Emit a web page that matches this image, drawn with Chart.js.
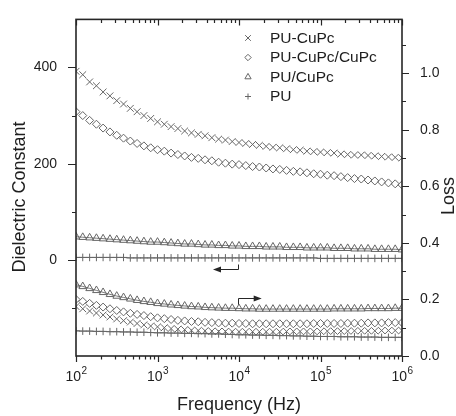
<!DOCTYPE html>
<html>
<head>
<meta charset="utf-8">
<script src="https://cdn.jsdelivr.net/npm/chart.js@4.4.0/dist/chart.umd.min.js"></script>
<style>
  html, body { margin: 0; padding: 0; background: #ffffff; }
  #c { display: block; }
</style>
</head>
<body>
<canvas id="c" width="456" height="416"></canvas>
<script>
// ---------------- DATA ----------------
const frequencies = [
  100, 121, 147, 178, 215, 261, 316, 383, 464, 562, 681, 825,
  1000, 1212, 1468, 1778, 2154, 2610, 3162, 3831, 4642, 5623, 6813, 8254,
  10000, 12115, 14678, 17783, 21544, 26102, 31623, 38312, 46416, 56234, 68129, 82540,
  100000, 121153, 146780, 177828, 215443, 261016, 316228, 383119, 464159, 562341, 681292, 825404,
  1000000
];
const seriesNames = ['PU-CuPc', 'PU-CuPc/CuPc', 'PU/CuPc', 'PU'];

// Dielectric constant (left axis)
const dielPUCuPc = [
  392, 385, 370, 362, 349, 341, 331, 324, 315, 308, 300, 294,
  287, 282, 277, 273, 268, 264, 261, 258, 254, 251, 249, 246,
  244, 242, 240, 238, 236, 234, 233, 231, 229, 228, 226, 225,
  224, 223, 222, 220, 219, 218, 218, 217, 216, 215, 214, 213,
  212
];
const dielPUCuPcCuPc = [
  308, 300, 290, 282, 274, 266, 259, 253, 247, 242, 237, 233,
  229, 226, 222, 219, 216, 213, 211, 208, 206, 203, 201, 199,
  198, 196, 194, 193, 191, 189, 188, 186, 184, 183, 181, 179,
  178, 176, 175, 173, 171, 169, 168, 166, 164, 162, 160, 158,
  156
];
const dielPUslashCuPc = [
  48, 47, 46, 45, 44, 43, 42, 41, 40, 39, 38, 37,
  37, 36, 35, 34, 33, 33, 32, 31, 31, 30, 30, 29,
  29, 28, 28, 28, 27, 27, 27, 26, 26, 26, 25, 25,
  25, 25, 24, 24, 24, 23, 23, 23, 22, 22, 22, 22,
  21
];
const dielPU = [
  5, 5, 5, 5, 5, 5, 5, 5, 4, 4, 4, 4,
  4, 4, 4, 4, 4, 4, 4, 4, 4, 4, 4, 4,
  4, 4, 4, 4, 4, 4, 4, 4, 4, 4, 4, 4,
  3, 3, 3, 3, 3, 3, 3, 3, 3, 3, 3, 3,
  3
];

// Loss (right axis)
const lossPUCuPc = [
  0.175, 0.167, 0.159, 0.152, 0.145, 0.138, 0.131, 0.125, 0.120, 0.115, 0.110, 0.106,
  0.103, 0.100, 0.097, 0.095, 0.093, 0.091, 0.090, 0.089, 0.088, 0.087, 0.087, 0.086,
  0.086, 0.086, 0.086, 0.086, 0.086, 0.086, 0.086, 0.087, 0.087, 0.087, 0.087, 0.087,
  0.087, 0.088, 0.088, 0.088, 0.088, 0.089, 0.089, 0.089, 0.089, 0.090, 0.090, 0.090,
  0.090
];
const lossPUCuPcCuPc = [
  0.200, 0.193, 0.186, 0.179, 0.173, 0.167, 0.161, 0.156, 0.151, 0.147, 0.143, 0.139,
  0.135, 0.132, 0.129, 0.126, 0.124, 0.122, 0.121, 0.119, 0.118, 0.117, 0.116, 0.116,
  0.115, 0.115, 0.114, 0.114, 0.114, 0.114, 0.114, 0.114, 0.114, 0.114, 0.114, 0.115,
  0.115, 0.115, 0.115, 0.115, 0.116, 0.116, 0.116, 0.117, 0.117, 0.117, 0.118, 0.118,
  0.118
];
const lossPUslashCuPc = [
  0.252, 0.246, 0.239, 0.232, 0.225, 0.218, 0.212, 0.207, 0.202, 0.197, 0.193, 0.190,
  0.186, 0.184, 0.181, 0.179, 0.177, 0.175, 0.174, 0.172, 0.171, 0.170, 0.169, 0.169,
  0.168, 0.167, 0.167, 0.166, 0.166, 0.166, 0.166, 0.166, 0.166, 0.166, 0.166, 0.166,
  0.166, 0.166, 0.167, 0.167, 0.167, 0.167, 0.167, 0.168, 0.168, 0.168, 0.168, 0.169,
  0.169
];
const lossPU = [
  0.089, 0.088, 0.088, 0.087, 0.087, 0.086, 0.086, 0.085, 0.085, 0.084, 0.084, 0.083,
  0.082, 0.082, 0.081, 0.081, 0.080, 0.080, 0.079, 0.079, 0.078, 0.078, 0.077, 0.076,
  0.075, 0.075, 0.074, 0.074, 0.073, 0.073, 0.072, 0.072, 0.071, 0.071, 0.070, 0.070,
  0.069, 0.069, 0.069, 0.068, 0.068, 0.068, 0.067, 0.067, 0.067, 0.066, 0.066, 0.066,
  0.066
];

// Tick values
const xMajorTicks = [100, 1000, 10000, 100000, 1000000];
const xExponents = ['2', '3', '4', '5', '6'];
const leftMajorTicks = [0, 200, 400];
const leftMinorTicks = [-100, 100, 300];
const rightMajorTicks = [0, 0.2, 0.4, 0.6, 0.8, 1.0];
const rightMinorTicks = [0.1, 0.3, 0.5, 0.7, 0.9, 1.1];

// ---------------- STYLE ----------------
const FONT = '"Liberation Sans", Arial, Helvetica, sans-serif';
const MARK = '#666666';
const AXIS = '#262626';
const TEXT = '#1e1e1e';

const markerStyles = [
  { pointStyle: 'crossRot', radius: 4.8, line: false },
  { pointStyle: 'rectRot', radius: 4.0, line: false },
  { pointStyle: 'triangle', radius: 4.4, line: true },
  { pointStyle: 'cross', radius: 3.8, line: true }
];

function pts(arr) { return frequencies.map((f, i) => ({ x: f, y: arr[i] })); }

function mkDataset(label, arr, axis, idx) {
  const m = markerStyles[idx];
  return {
    label: label,
    data: pts(arr),
    yAxisID: axis,
    showLine: m.line,
    borderColor: MARK,
    borderWidth: 0.9,
    backgroundColor: 'rgba(0,0,0,0)',
    pointStyle: m.pointStyle,
    pointRadius: m.radius,
    pointBorderColor: MARK,
    pointBackgroundColor: 'rgba(0,0,0,0)',
    pointBorderWidth: 1,
    tension: 0,
    fill: false
  };
}

const datasets = [
  mkDataset(seriesNames[0], dielPUCuPc, 'y', 0),
  mkDataset(seriesNames[1], dielPUCuPcCuPc, 'y', 1),
  mkDataset(seriesNames[2], dielPUslashCuPc, 'y', 2),
  mkDataset(seriesNames[3], dielPU, 'y', 3),
  mkDataset(seriesNames[0] + ' loss', lossPUCuPc, 'y2', 0),
  mkDataset(seriesNames[1] + ' loss', lossPUCuPcCuPc, 'y2', 1),
  mkDataset(seriesNames[2] + ' loss', lossPUslashCuPc, 'y2', 2),
  mkDataset(seriesNames[3] + ' loss', lossPU, 'y2', 3)
];

// Arrow annotations (in data units)
const arrowDielectric = { xCorner: 9800, xTip: 4800, yTop: -8, yBottom: -18.5 };
const arrowLoss = { xCorner: 9800, xTip: 19000, yBottom: 0.184, yTop: 0.205 };

// ---------------- PLUGIN ----------------
function drawMarker(ctx, style, radius, x, y) {
  if (Chart.helpers && Chart.helpers.drawPoint) {
    Chart.helpers.drawPoint(ctx, { pointStyle: style, radius: radius, rotation: 0, borderWidth: 1 }, x, y);
  }
}

function arrowHead(ctx, x, y, dir) {
  ctx.beginPath();
  ctx.moveTo(x, y);
  ctx.lineTo(x - dir * 8, y - 3);
  ctx.lineTo(x - dir * 8, y + 3);
  ctx.closePath();
  ctx.fill();
}

const decorPlugin = {
  id: 'decor',
  afterDraw(chart) {
    const { ctx, chartArea: a, scales } = chart;
    const xs = scales.x, ys = scales.y, y2s = scales.y2;
    ctx.save();

    // frame
    ctx.strokeStyle = AXIS;
    ctx.lineWidth = 1.6;
    ctx.strokeRect(a.left, a.top, a.right - a.left, a.bottom - a.top);

    // x ticks (bottom outward, top inward)
    ctx.lineWidth = 1.2;
    ctx.beginPath();
    for (let d = 0; d < xMajorTicks.length; d++) {
      for (let m = 1; m <= 9; m++) {
        const v = xMajorTicks[d] * m;
        if (v > xMajorTicks[xMajorTicks.length - 1]) break;
        const px = Math.round(xs.getPixelForValue(v)) + 0.5;
        const len = (m === 1) ? 6 : 3.5;
        ctx.moveTo(px, a.bottom); ctx.lineTo(px, a.bottom + len);
        ctx.moveTo(px, a.top); ctx.lineTo(px, a.top + len);
      }
    }
    // left ticks outward
    leftMajorTicks.forEach(v => {
      const py = Math.round(ys.getPixelForValue(v)) + 0.5;
      ctx.moveTo(a.left, py); ctx.lineTo(a.left - 8, py);
    });
    leftMinorTicks.forEach(v => {
      const py = Math.round(ys.getPixelForValue(v)) + 0.5;
      ctx.moveTo(a.left, py); ctx.lineTo(a.left - 4, py);
    });
    // right ticks outward
    rightMajorTicks.forEach(v => {
      const py = Math.round(y2s.getPixelForValue(v)) + 0.5;
      ctx.moveTo(a.right, py); ctx.lineTo(a.right + 7, py);
    });
    rightMinorTicks.forEach(v => {
      const py = Math.round(y2s.getPixelForValue(v)) + 0.5;
      ctx.moveTo(a.right, py); ctx.lineTo(a.right + 4, py);
    });
    ctx.stroke();

    // x tick labels with superscript exponent
    ctx.fillStyle = TEXT;
    ctx.textBaseline = 'middle';
    xMajorTicks.forEach((v, i) => {
      const px = xs.getPixelForValue(v);
      ctx.font = '14px ' + FONT;
      const wBase = ctx.measureText('10').width;
      ctx.font = '10px ' + FONT;
      const wExp = ctx.measureText(xExponents[i]).width;
      const start = px - (wBase + wExp) / 2;
      ctx.textAlign = 'left';
      ctx.font = '14px ' + FONT;
      ctx.fillText('10', start, a.bottom + 21);
      ctx.font = '10px ' + FONT;
      ctx.fillText(xExponents[i], start + wBase + 0.5, a.bottom + 15);
    });

    // y axis titles (both read bottom-to-top)
    ctx.font = '18px ' + FONT;
    ctx.textAlign = 'center';
    ctx.textBaseline = 'middle';
    ctx.save();
    ctx.translate(20, 197);
    ctx.rotate(-Math.PI / 2);
    ctx.fillText('Dielectric Constant', 0, 0);
    ctx.restore();
    ctx.save();
    ctx.translate(449, 196);
    ctx.rotate(-Math.PI / 2);
    ctx.fillText('Loss', 0, 0);
    ctx.restore();

    // arrows
    ctx.strokeStyle = AXIS;
    ctx.fillStyle = AXIS;
    ctx.lineWidth = 1;
    let xc = Math.round(xs.getPixelForValue(arrowDielectric.xCorner)) + 0.5;
    let xt = xs.getPixelForValue(arrowDielectric.xTip);
    let yt = Math.round(ys.getPixelForValue(arrowDielectric.yTop)) + 0.5;
    let yb = Math.round(ys.getPixelForValue(arrowDielectric.yBottom)) + 0.5;
    ctx.beginPath();
    ctx.moveTo(xc, yt); ctx.lineTo(xc, yb); ctx.lineTo(xt + 4, yb);
    ctx.stroke();
    arrowHead(ctx, xt, yb, -1);

    xc = Math.round(xs.getPixelForValue(arrowLoss.xCorner)) + 0.5;
    xt = xs.getPixelForValue(arrowLoss.xTip);
    yt = Math.round(y2s.getPixelForValue(arrowLoss.yTop)) + 0.5;
    yb = Math.round(y2s.getPixelForValue(arrowLoss.yBottom)) + 0.5;
    ctx.beginPath();
    ctx.moveTo(xc, yb); ctx.lineTo(xc, yt); ctx.lineTo(xt - 4, yt);
    ctx.stroke();
    arrowHead(ctx, xt, yt, 1);

    // legend
    const legX = 248, legTextX = 270, legY0 = 38, legDy = 19.5;
    seriesNames.forEach((name, i) => {
      const yy = legY0 + i * legDy;
      ctx.strokeStyle = MARK;
      ctx.fillStyle = 'rgba(0,0,0,0)';
      ctx.lineWidth = 1;
      drawMarker(ctx, markerStyles[i].pointStyle, markerStyles[i].radius - 0.8, legX, yy);
      ctx.fillStyle = TEXT;
      ctx.font = '15.5px ' + FONT;
      ctx.textAlign = 'left';
      ctx.textBaseline = 'middle';
      ctx.fillText(name, legTextX, yy + 0.5);
    });

    ctx.restore();
  }
};

// ---------------- CHART ----------------
new Chart(document.getElementById('c').getContext('2d'), {
  type: 'line',
  data: { datasets: datasets },
  plugins: [decorPlugin],
  options: {
    responsive: false,
    animation: false,
    events: [],
    layout: { padding: { top: 13, left: 0, right: 0, bottom: 0 } },
    plugins: { legend: { display: false }, tooltip: { enabled: false } },
    scales: {
      x: {
        type: 'logarithmic',
        position: 'bottom',
        min: 100,
        max: 1000000,
        grid: { display: false },
        border: { display: false },
        ticks: { display: false },
        title: {
          display: true,
          text: 'Frequency (Hz)',
          color: TEXT,
          font: { family: FONT, size: 18 },
          padding: { top: 0, bottom: 0 }
        },
        afterFit: s => { s.height = 60; }
      },
      y: {
        position: 'left',
        min: -200,
        max: 500,
        grid: { display: false },
        border: { display: false },
        afterBuildTicks: s => { s.ticks = leftMajorTicks.map(v => ({ value: v })); },
        ticks: {
          color: TEXT,
          font: { family: FONT, size: 14 },
          padding: 11,
          callback: v => String(v)
        },
        afterFit: s => { s.width = 76; }
      },
      y2: {
        position: 'right',
        min: 0,
        max: 1.19,
        grid: { display: false },
        border: { display: false },
        afterBuildTicks: s => { s.ticks = rightMajorTicks.map(v => ({ value: v })); },
        ticks: {
          color: TEXT,
          font: { family: FONT, size: 14 },
          padding: 10,
          callback: v => Number(v).toFixed(1)
        },
        afterFit: s => { s.width = 54; }
      }
    }
  }
});
</script>
</body>
</html>
